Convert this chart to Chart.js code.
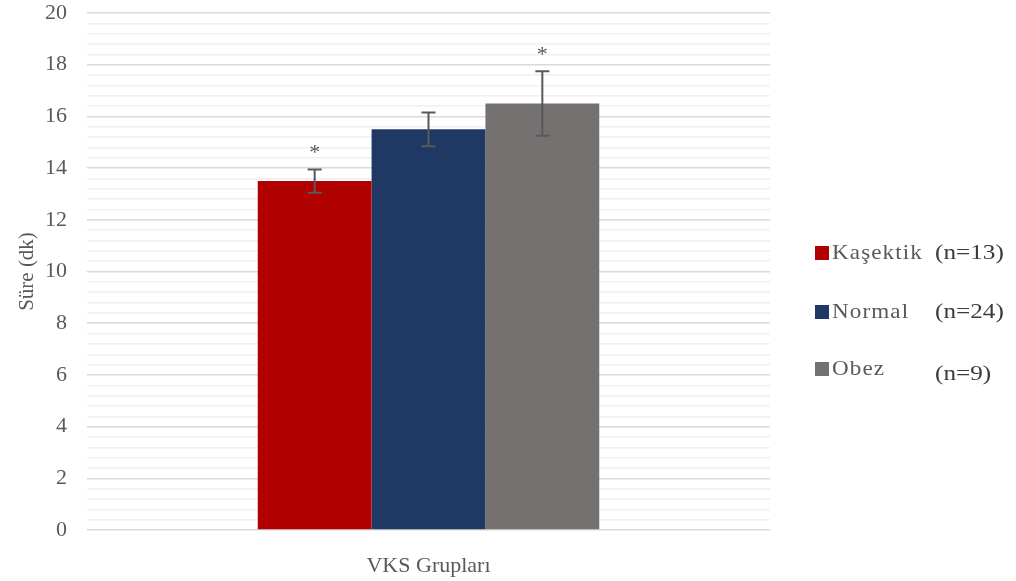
<!DOCTYPE html>
<html>
<head>
<meta charset="utf-8">
<script src="https://cdn.jsdelivr.net/npm/chart.js@4/dist/chart.umd.min.js"></script>
<style>
  html, body { margin: 0; padding: 0; background: #ffffff; }
  canvas { display: block; }
</style>
</head>
<body>
<canvas id="chart" width="1016" height="581"></canvas>
<script>
// Group data: mean duration (dk) and error (±) per VKS group
const categories = ['VKS Grupları'];
const groupNames = ['Kaşektik', 'Normal', 'Obez'];
const groupCounts = ['(n=13)', '(n=24)', '(n=9)'];
const meanValues = [13.5, 15.5, 16.5];
const errorValues = [0.45, 0.65, 1.25];
const significant = [true, false, true];
const groupColors = ['#b00000', '#203864', '#757171'];
const yTicksMajor = [0, 2, 4, 6, 8, 10, 12, 14, 16, 18, 20];

const serif = "'Liberation Serif', 'Times New Roman', serif";
const textGray = '#595959';

function isMajor(v) {
  return yTicksMajor.some(t => Math.abs(t - v) < 1e-6);
}

// Error bars with caps, plus significance asterisks above them
const errorBarPlugin = {
  id: 'errorBars',
  afterDatasetsDraw(chart) {
    const ctx = chart.ctx;
    const y = chart.scales.y;
    ctx.save();
    meanValues.forEach((m, i) => {
      const bar = chart.getDatasetMeta(i).data[0];
      const x = bar.x;
      const top = y.getPixelForValue(m + errorValues[i]);
      const bot = y.getPixelForValue(m - errorValues[i]);
      ctx.strokeStyle = '#595959';
      ctx.lineWidth = 2;
      ctx.beginPath();
      ctx.moveTo(x, top); ctx.lineTo(x, bot);
      ctx.moveTo(x - 7, top); ctx.lineTo(x + 7, top);
      ctx.moveTo(x - 7, bot); ctx.lineTo(x + 7, bot);
      ctx.stroke();
      if (significant[i]) {
        ctx.fillStyle = textGray;
        ctx.font = '22px ' + serif;
        ctx.textAlign = 'center';
        ctx.textBaseline = 'alphabetic';
        ctx.fillText('*', x, top - 10);
      }
    });
    ctx.restore();
  }
};

// Legend on the right: colour square, group name, sample size
const sideLegendPlugin = {
  id: 'sideLegend',
  afterDraw(chart) {
    const ctx = chart.ctx;
    const rows = [253, 312, 369];
    const countShift = [0, 0, 5];
    ctx.save();
    ctx.textBaseline = 'middle';
    groupNames.forEach((name, i) => {
      const yc = rows[i];
      ctx.fillStyle = groupColors[i];
      ctx.fillRect(815, yc - 7, 14, 14);

      ctx.save();
      ctx.translate(832, yc);
      ctx.scale(1.1, 1);
      ctx.fillStyle = textGray;
      ctx.font = '21px ' + serif;
      ctx.letterSpacing = '1px';
      ctx.textAlign = 'left';
      ctx.fillText(name, 0, 0);
      ctx.restore();

      ctx.save();
      ctx.translate(935, yc + countShift[i]);
      ctx.scale(1.2, 1);
      ctx.fillStyle = '#3d3a35';
      ctx.font = '21px ' + serif;
      ctx.textAlign = 'left';
      ctx.fillText(groupCounts[i], 0, 0);
      ctx.restore();
    });
    ctx.restore();
  }
};

const datasets = groupNames.map((name, i) => ({
  label: name + ' ' + groupCounts[i],
  data: [meanValues[i]],
  backgroundColor: groupColors[i],
  borderWidth: 0,
  categoryPercentage: 0.5,
  barPercentage: 1.0
}));

new Chart(document.getElementById('chart'), {
  type: 'bar',
  data: { labels: categories, datasets },
  options: {
    responsive: false,
    animation: false,
    devicePixelRatio: 1,
    layout: { padding: { top: 13, right: 246, left: 0, bottom: 0 } },
    plugins: {
      legend: { display: false },
      tooltip: { enabled: false }
    },
    scales: {
      x: {
        grid: { display: false },
        border: { display: false },
        ticks: {
          color: textGray,
          font: { family: serif, size: 22 },
          padding: 15
        },
        afterFit(scale) { scale.height = 51; }
      },
      y: {
        min: 0,
        max: 20,
        border: { display: false },
        grid: {
          drawTicks: false,
          color: ctx => isMajor(ctx.tick.value) ? '#d9d9d9' : '#f0f0f0',
          lineWidth: ctx => isMajor(ctx.tick.value) ? 1.6 : 1.4
        },
        ticks: {
          stepSize: 0.4,
          autoSkip: false,
          padding: 20,
          color: textGray,
          font: { family: serif, size: 22 },
          callback: v => isMajor(v) ? String(Math.round(v)) : ''
        },
        title: {
          display: true,
          text: 'Süre (dk)',
          color: textGray,
          font: { family: serif, size: 21 },
          padding: { top: 15, bottom: 0 }
        },
        afterFit(scale) {
          scale.width = 87;
          scale.paddingTop = 0;
          scale.paddingBottom = 0;
        }
      }
    }
  },
  plugins: [errorBarPlugin, sideLegendPlugin]
});
</script>
</body>
</html>
